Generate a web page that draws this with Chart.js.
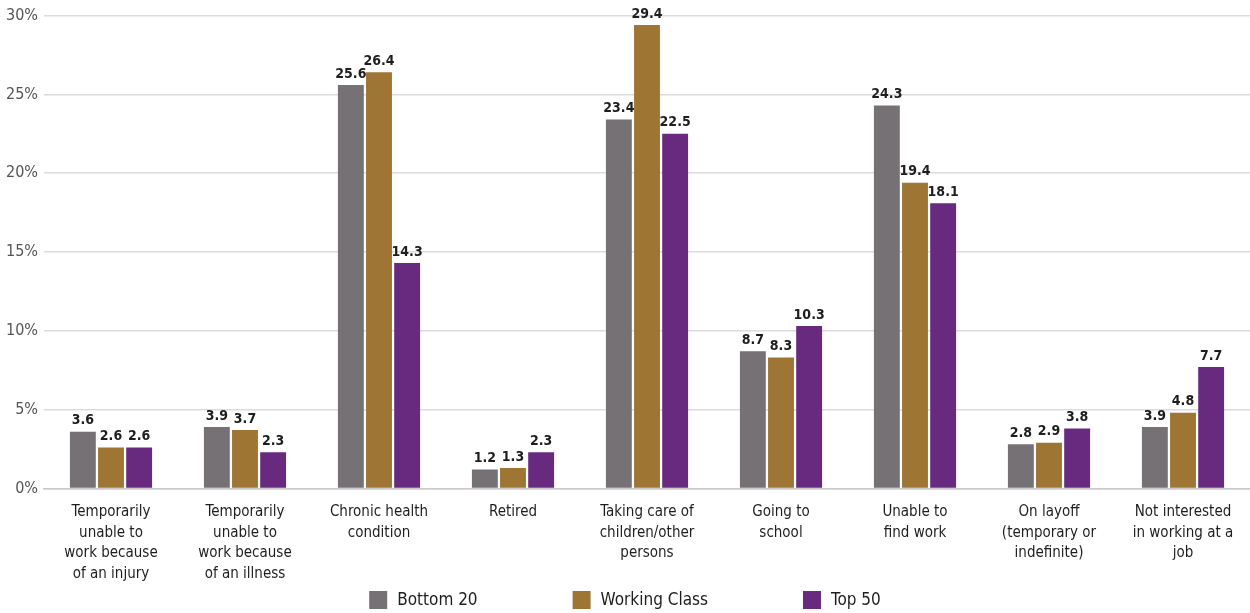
<html>
<head>
<script src="https://cdn.jsdelivr.net/npm/chart.js@4"></script>
<style>
	body { margin: 0; background: #fff; }
	#wrap { width: 1250px; height: 613px; }
</style>
</head>
<body>
<div id="wrap"><canvas id="myChart"></canvas></div>
<script>
	var categories = [
		['Temporarily', 'unable to', 'work because', 'of an injury'],
		['Temporarily', 'unable to', 'work because', 'of an illness'],
		['Chronic health', 'condition'],
		['Retired'],
		['Taking care of', 'children/other', 'persons'],
		['Going to', 'school'],
		['Unable to', 'find work'],
		['On layoff', '(temporary or', 'indefinite)'],
		['Not interested', 'in working at a', 'job']
	];
	var bottom20 = [3.6, 3.9, 25.6, 1.2, 23.4, 8.7, 24.3, 2.8, 3.9];
	var workingClass = [2.6, 3.7, 26.4, 1.3, 29.4, 8.3, 19.4, 2.9, 4.8];
	var top50 = [2.6, 2.3, 14.3, 2.3, 22.5, 10.3, 18.1, 3.8, 7.7];

	var FONT = "'DejaVu Sans Condensed', 'Liberation Sans Narrow', sans-serif";

	// draws the value over every bar
	var valueLabels = {
		id: 'valueLabels',
		afterDatasetsDraw: function(chart) {
			var ctx = chart.ctx;
			ctx.save();
			ctx.font = 'bold 14px ' + FONT;
			ctx.fillStyle = '#1e1e1e';
			ctx.textAlign = 'center';
			ctx.textBaseline = 'bottom';
			chart.data.datasets.forEach(function(ds, i) {
				chart.getDatasetMeta(i).data.forEach(function(bar, j) {
					ctx.fillText(ds.data[j].toFixed(1), bar.x, bar.y - 4);
				});
			});
			ctx.restore();
		}
	};

	// legend with wide gaps between items, drawn under the x labels
	var wideLegend = {
		id: 'wideLegend',
		afterDraw: function(chart) {
			var ctx = chart.ctx;
			var gap = 95, box = 18, textGap = 10;
			ctx.save();
			ctx.font = '17px ' + FONT;
			ctx.textBaseline = 'middle';
			var items = chart.data.datasets.map(function(ds) {
				return { label: ds.label, color: ds.backgroundColor, w: box + textGap + ctx.measureText(ds.label).width };
			});
			var total = items.reduce(function(s, it) { return s + it.w; }, 0) + gap * (items.length - 1);
			var x = (chart.width - total) / 2;
			var y = chart.height - 13;
			items.forEach(function(it) {
				ctx.fillStyle = it.color;
				ctx.fillRect(x, y - box / 2, box, box);
				ctx.fillStyle = '#1e1e1e';
				ctx.fillText(it.label, x + box + textGap, y + 1);
				x += it.w + gap;
			});
			ctx.restore();
		}
	};

	var ctx = document.getElementById('myChart').getContext('2d');
	var chart = new Chart(ctx, {
		type: 'bar',
		data: {
			labels: categories,
			datasets: [
				{ label: 'Bottom 20', data: bottom20, backgroundColor: '#767174' },
				{ label: 'Working Class', data: workingClass, backgroundColor: '#9e7532' },
				{ label: 'Top 50', data: top50, backgroundColor: '#672a7f' }
			]
		},
		options: {
			responsive: true,
			maintainAspectRatio: false,
			animation: false,
			layout: { padding: { left: 0, right: 0, top: 8, bottom: 23 } },
			datasets: { bar: { categoryPercentage: 0.63, barPercentage: 0.92 } },
			plugins: {
				legend: { display: false },
				tooltip: { enabled: false }
			},
			scales: {
				x: {
					grid: { display: false },
					border: { color: '#c8c8c8', width: 1.5 },
					ticks: { color: '#1e1e1e', padding: 6, font: { family: FONT, size: 15, lineHeight: 1.36 }, maxRotation: 0, autoSkip: false }
				},
				y: {
					min: 0, max: 30,
					grid: { color: '#dcdcdc', lineWidth: 1.5, drawTicks: false },
					border: { display: false },
					ticks: {
						stepSize: 5, padding: 6,
						color: '#555',
						font: { family: FONT, size: 16 },
						callback: function(v) { return v + '%'; }
					}
				}
			}
		},
		plugins: [valueLabels, wideLegend]
	});
</script>
</body>
</html>
